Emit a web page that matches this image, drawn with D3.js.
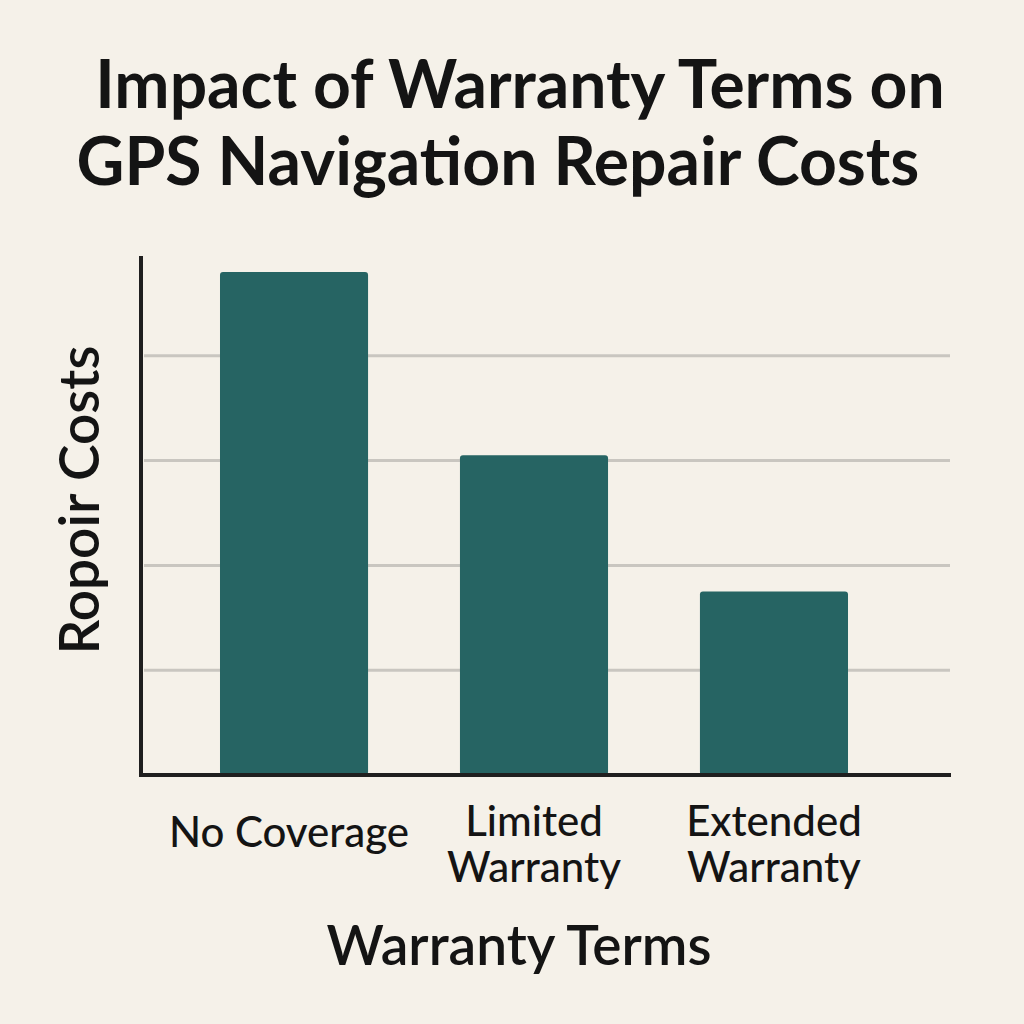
<!DOCTYPE html>
<html><head><meta charset="utf-8">
<script src="https://cdn.jsdelivr.net/npm/d3@7"></script>
<style>html,body{margin:0;padding:0;background:#f5f1e9;}svg{display:block;}</style>
</head><body><div id="chart"></div>
<script>
const categories = [["No Coverage"], ["Limited", "Warranty"], ["Extended", "Warranty"]];
const values = [96, 61, 35];
const gridValues = [20, 40, 60, 80];
const titleLines = ["Impact of Warranty Terms on", "GPS Navigation Repair Costs"];
const yLabel = "Ropoir Costs";
const xLabel = "Warranty Terms";

const W = 1024, H = 1024;
const svg = d3.select("#chart").append("svg").attr("width", W).attr("height", H);
svg.append("rect").attr("width", W).attr("height", H).attr("fill", "#f5f1e9");
const font = "Lato, 'Open Sans', sans-serif";

const x = d3.scaleBand().domain(d3.range(categories.length)).range([148, 920]).paddingInner(0.383).paddingOuter(0.3);
const y = d3.scaleLinear().domain([0, 100]).range([775, 251]);

// gridlines
svg.append("g").selectAll("line").data(gridValues).join("line")
  .attr("x1", 144).attr("x2", 950)
  .attr("y1", d => y(d)).attr("y2", d => y(d))
  .attr("stroke", "#c9c6c0").attr("stroke-width", 3);

// bars
svg.append("g").selectAll("rect").data(values).join("rect")
  .attr("x", (d, i) => x(i)).attr("width", x.bandwidth())
  .attr("y", d => y(d)).attr("height", d => y(0) - y(d))
  .attr("rx", 3).attr("fill", "#266463");

// axes
svg.append("line").attr("x1", 141).attr("x2", 141).attr("y1", 256).attr("y2", y(0) + 2)
  .attr("stroke", "#1f1f1f").attr("stroke-width", 4);
svg.append("line").attr("x1", 139).attr("x2", 951).attr("y1", y(0)).attr("y2", y(0))
  .attr("stroke", "#1f1f1f").attr("stroke-width", 4);

// tick labels
categories.forEach((lines, i) => {
  const cx = x(i) + x.bandwidth() / 2 - (i === 0 ? 5 : 0);
  const t = svg.append("text").attr("text-anchor", "middle").attr("font-family", font)
    .attr("font-size", 42).attr("font-weight", 500).attr("fill", "#141414");
  const baseY = lines.length === 1 ? 847 : 836;
  lines.forEach((l, j) => t.append("tspan").attr("x", cx).attr("y", baseY + j * 46).text(l));
});

// title
titleLines.forEach((l, i) => {
  svg.append("text").attr("x", i === 0 ? 520 : 498).attr("y", i === 0 ? 108 : 185)
    .attr("text-anchor", "middle").attr("font-family", font).attr("font-weight", 700)
    .attr("font-size", 66).attr("fill", "#141414").text(l);
});

// axis titles
svg.append("text").attr("x", 519).attr("y", 965).attr("text-anchor", "middle")
  .attr("font-family", font).attr("font-weight", 600).attr("font-size", 55).attr("fill", "#141414").text(xLabel);
svg.append("text").attr("transform", "translate(99,500) rotate(-90)").attr("text-anchor", "middle")
  .attr("font-family", font).attr("font-weight", 600).attr("font-size", 55).attr("fill", "#141414").text(yLabel);
</script></body></html>
